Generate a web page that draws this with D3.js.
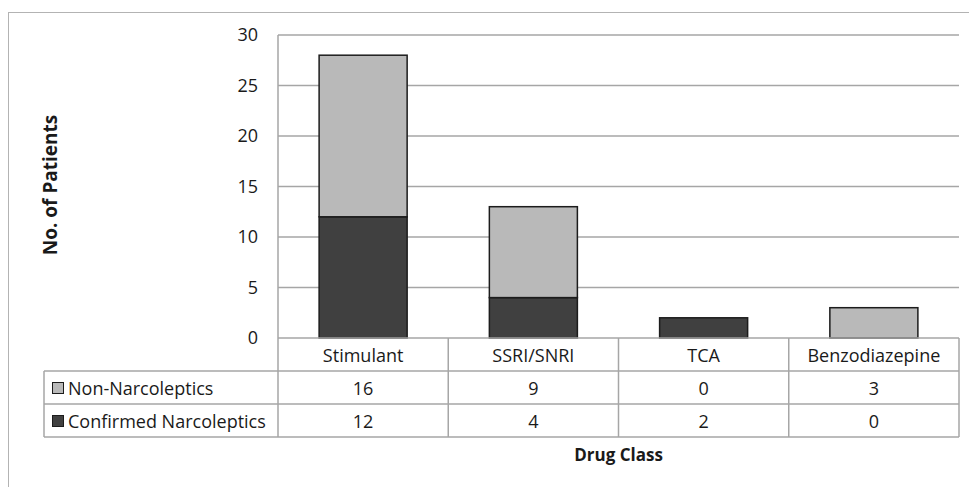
<!DOCTYPE html>
<html>
<head>
<meta charset="utf-8">
<script src="https://cdn.jsdelivr.net/npm/d3@7"></script>
<style>
  body { margin: 0; background: #fff; }
  text { font-family: "Open Sans", sans-serif; fill: #1a1a1a; }
</style>
</head>
<body>
<div id="chart"></div>
<script>
// Data
var categories = ['Stimulant', 'SSRI/SNRI', 'TCA', 'Benzodiazepine'];
var confirmed = [12, 4, 2, 0];
var nonNarco = [16, 9, 0, 3];
var yTicks = [0, 5, 10, 15, 20, 25, 30];
var seriesNames = ['Non-Narcoleptics', 'Confirmed Narcoleptics'];

var svgWidth = 969;
var svgHeight = 487;
var plot = { left: 278, right: 959, top: 35, bottom: 338 };
var rowH = 33;
var legendLeft = 44;

var lightFill = '#b9b9b9';
var darkFill = '#404040';
var gridColor = '#a6a6a6';

var svg = d3.select('#chart')
    .append('svg')
    .attr('width', svgWidth)
    .attr('height', svgHeight);

// outer frame
svg.append('rect')
    .attr('x', 8.5)
    .attr('y', 12.5)
    .attr('width', 980)
    .attr('height', 500)
    .attr('fill', 'none')
    .attr('stroke', '#b3b3b3')
    .attr('stroke-width', 1);

var xScale = d3.scaleBand()
    .domain(categories)
    .range([plot.left, plot.right]);

var yScale = d3.scaleLinear()
    .domain([0, 30])
    .range([plot.bottom, plot.top]);

// gridlines
svg.append('g').selectAll('line')
    .data(yTicks.slice(1))
    .enter()
    .append('line')
    .attr('x1', plot.left)
    .attr('x2', plot.right)
    .attr('y1', d => yScale(d))
    .attr('y2', d => yScale(d))
    .attr('stroke', gridColor)
    .attr('stroke-width', 1.5);

// y axis labels
var leftAxis = d3.axisLeft(yScale)
    .tickValues(yTicks)
    .tickSize(0)
    .tickPadding(20);
var yAxis = svg.append('g')
    .attr('transform', `translate(${plot.left}, 0)`)
    .call(leftAxis);
yAxis.select('.domain').remove();
yAxis.selectAll('text')
    .attr('font-size', 18)
    .attr('font-family', '"Open Sans", sans-serif')
    .attr('fill', '#1a1a1a');

// stacked bars
var barW = xScale.bandwidth() * 0.517;
var barOff = (xScale.bandwidth() - barW) / 2;
var stackData = categories.map((c, i) => ({ cat: c, confirmed: confirmed[i], non: nonNarco[i] }));
var stack = d3.stack().keys(['confirmed', 'non'])(stackData);
var fills = { confirmed: darkFill, non: lightFill };

stack.forEach(function(layer) {
    svg.append('g').selectAll('rect')
        .data(layer.filter(d => d[1] > d[0]))
        .enter()
        .append('rect')
        .attr('x', d => xScale(d.data.cat) + barOff)
        .attr('width', barW)
        .attr('y', d => yScale(d[1]))
        .attr('height', d => yScale(d[0]) - yScale(d[1]))
        .attr('fill', fills[layer.key])
        .attr('stroke', '#1c1c1c')
        .attr('stroke-width', 1.5);
});

// data table
var table = svg.append('g')
    .attr('stroke', gridColor)
    .attr('stroke-width', 1.5);
var tableBottom = plot.bottom + rowH * 3;

// horizontal lines
table.append('line')
    .attr('x1', plot.left).attr('x2', plot.right)
    .attr('y1', plot.bottom).attr('y2', plot.bottom);
[1, 2, 3].forEach(function(r) {
    table.append('line')
        .attr('x1', legendLeft).attr('x2', plot.right)
        .attr('y1', plot.bottom + rowH * r).attr('y2', plot.bottom + rowH * r);
});
// vertical lines
table.append('line')
    .attr('x1', plot.left).attr('x2', plot.left)
    .attr('y1', plot.top).attr('y2', tableBottom);
table.append('line')
    .attr('x1', legendLeft).attr('x2', legendLeft)
    .attr('y1', plot.bottom + rowH).attr('y2', tableBottom);
categories.forEach(function(c) {
    var xr = xScale(c) + xScale.bandwidth();
    table.append('line')
        .attr('x1', xr).attr('x2', xr)
        .attr('y1', plot.bottom).attr('y2', tableBottom);
});

// header labels
svg.append('g').selectAll('text')
    .data(categories)
    .enter()
    .append('text')
    .attr('x', d => xScale(d) + xScale.bandwidth() / 2)
    .attr('y', plot.bottom + 24)
    .attr('text-anchor', 'middle')
    .attr('font-size', 18)
    .text(d => d);

// row values
var rows = [nonNarco, confirmed];
var rowFills = [lightFill, darkFill];
rows.forEach(function(vals, r) {
    var top = plot.bottom + rowH * (r + 1);
    svg.append('g').selectAll('text')
        .data(vals)
        .enter()
        .append('text')
        .attr('x', (d, i) => xScale(categories[i]) + xScale.bandwidth() / 2)
        .attr('y', top + 24)
        .attr('text-anchor', 'middle')
        .attr('font-size', 18)
        .text(d => d);
    // legend key
    svg.append('rect')
        .attr('x', 52.5)
        .attr('y', top + 11.5)
        .attr('width', 11)
        .attr('height', 11)
        .attr('fill', rowFills[r])
        .attr('stroke', '#1c1c1c')
        .attr('stroke-width', 1);
    svg.append('text')
        .attr('x', 68)
        .attr('y', top + 24)
        .attr('font-size', 18)
        .text(seriesNames[r]);
});

// axis titles
svg.append('text')
    .attr('x', (plot.left + plot.right) / 2)
    .attr('y', 461)
    .attr('text-anchor', 'middle')
    .attr('font-size', 17)
    .attr('font-weight', 'bold')
    .text('Drug Class');

svg.append('text')
    .attr('transform', 'translate(57, 185) rotate(-90)')
    .attr('text-anchor', 'middle')
    .attr('font-size', 19)
    .attr('font-weight', 'bold')
    .text('No. of Patients');
</script>
</body>
</html>
